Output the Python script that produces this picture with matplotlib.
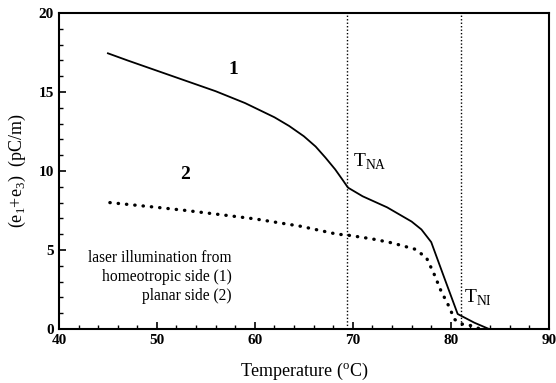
import matplotlib.pyplot as plt
import numpy as np

plt.rcParams['font.family'] = ['Liberation Serif', 'DejaVu Serif']
plt.rcParams['mathtext.fontset'] = 'custom'
plt.rcParams['mathtext.rm'] = 'Liberation Serif'

# curve 1: homeotropic side
temp1 = [45, 47, 50, 53, 56, 59, 62, 63.5, 65, 66.2, 67.2, 68.2, 69, 69.5, 71, 73.5, 76, 77, 78, 79.3, 80.7, 82.4, 83.9]
flexo1 = [17.45, 17.0, 16.35, 15.7, 15.05, 14.3, 13.4, 12.85, 12.2, 11.55, 10.85, 10.1, 9.4, 8.95, 8.4, 7.7, 6.8, 6.3, 5.5, 3.3, 0.95, 0.4, 0.0]

# curve 2: planar side
temp2 = [45.2, 50, 53, 57, 60, 64.7, 68.4, 69.4, 72, 74, 76.3, 77.5, 78.3, 79, 79.7, 80.4, 81.2, 82.2, 83]
flexo2 = [8.0, 7.7, 7.5, 7.2, 6.97, 6.5, 6.0, 5.95, 5.7, 5.45, 5.06, 4.53, 3.47, 2.41, 1.57, 0.6, 0.3, 0.2, 0.0]

T_NA = 69.4
T_NI = 81.0

fig = plt.figure(figsize=(5.56, 3.83), dpi=100)
ax = fig.add_axes([0.106, 0.141, 0.881, 0.825])

ax.plot(temp1, flexo1, color='k', lw=1.3)
ax.plot(temp2, flexo2, color='k', lw=2.4, ls=(0, (0.1, 2.4)), dash_capstyle='round')

ax.axvline(T_NA, color='k', lw=1, ls=(0, (1, 1.5)))
ax.axvline(T_NI, color='k', lw=1, ls=(0, (1, 1.5)))

ax.set_xlim(40, 90)
ax.set_ylim(0, 20)
ax.set_xticks([40, 50, 60, 70, 80, 90])
ax.set_xticks(np.arange(40, 91, 2), minor=True)
ax.set_yticks([0, 5, 10, 15, 20])
ax.set_yticks(np.arange(0, 21, 1), minor=True)
ax.tick_params(which='both', direction='in', top=False, right=False, labelsize=11)
ax.tick_params(which='major', length=5, width=1.2)
ax.tick_params(which='minor', length=3, width=1)
for lab in ax.get_xticklabels() + ax.get_yticklabels():
    lab.set_fontweight('bold')
for s in ax.spines.values():
    s.set_linewidth(1.5)

ax.text(57.8, 16.4, '1', fontsize=14, fontweight='bold', ha='center', va='center')
ax.text(52.9, 9.8, '2', fontsize=14, fontweight='bold', ha='center', va='center')
ax.text(70.0, 10.6, r'T$_{\rm NA}$', fontsize=14, ha='left', va='center')
ax.text(81.3, 2.0, r'T$_{\rm NI}$', fontsize=14, ha='left', va='center')

ax.text(57.6, 4.5, 'laser illumination from', fontsize=11.2, ha='right', va='center')
ax.text(57.6, 3.3, 'homeotropic side (1)', fontsize=11.2, ha='right', va='center')
ax.text(57.6, 2.1, 'planar side (2)', fontsize=11.2, ha='right', va='center')

ax.set_xlabel(r'Temperature ($^{\rm o}$C)', fontsize=13, labelpad=10)
ax.set_ylabel(r'(e$_1$+e$_3$)  (pC/m)', fontsize=13, labelpad=8)

plt.savefig('out.png', dpi=100)
